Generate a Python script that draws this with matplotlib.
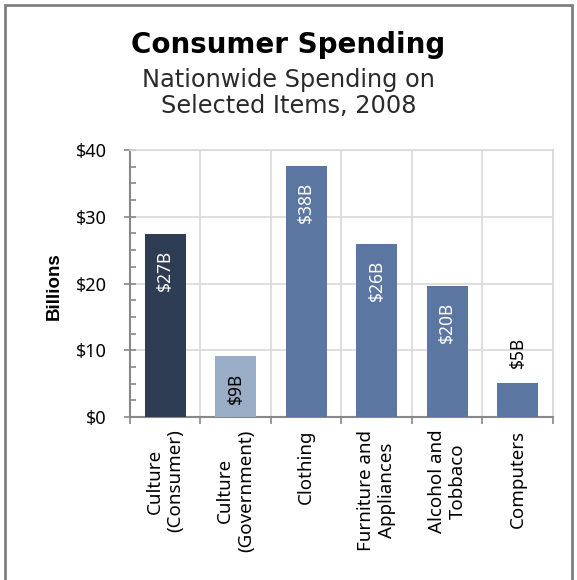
import matplotlib
matplotlib.use("Agg")
import matplotlib.pyplot as plt
from matplotlib.patches import Rectangle
from matplotlib.ticker import MultipleLocator
import numpy as np

categories = ["Culture\n(Consumer)", "Culture\n(Government)", "Clothing",
              "Furniture and\nAppliances", "Alcohol and\nTobbaco", "Computers"]
spending = [27.4, 9.1, 37.6, 25.9, 19.7, 5.1]
bar_colors = ["#2e3c54", "#9aadc7", "#5b76a0", "#5b76a0", "#5b76a0", "#5b76a0"]
label_colors = ["white", "black", "white", "white", "white", "black"]
label_inside = [True, True, True, True, True, False]
y_ticks = [0, 10, 20, 30, 40]

plt.rcParams['font.family'] = ['Noto Sans', 'DejaVu Sans']

fig = plt.figure(figsize=(5.77, 5.80), dpi=100)
ax = fig.add_axes([0.2253, 0.281, 0.7331, 0.4603])

x = np.arange(len(categories))
bars = ax.bar(x, spending, width=0.58, color=bar_colors, zorder=3)

for b, v, c, inside in zip(bars, spending, label_colors, label_inside):
    xc = b.get_x() + b.get_width() / 2
    if inside:
        ax.annotate(f"${v:.0f}B", (xc, v), xytext=(0, -11.5), textcoords="offset points",
                    rotation=90, ha="center", va="top", color=c, fontsize=12.5, zorder=4)
    else:
        ax.annotate(f"${v:.0f}B", (xc, v), xytext=(0, 11), textcoords="offset points",
                    rotation=90, ha="center", va="bottom", color=c, fontsize=12.5, zorder=4)

ax.set_xlim(-0.5, len(categories) - 0.5)
ax.set_ylim(0, 40)

# gridlines sit on the category boundaries and the major y ticks
ax.set_yticks(y_ticks)
ax.set_yticklabels([f"${t}" for t in y_ticks], fontsize=13)
ax.yaxis.set_minor_locator(MultipleLocator(2.5))
boundaries = np.arange(len(categories) + 1) - 0.5
ax.set_xticks(boundaries)
ax.set_xticklabels([])
ax.set_xticks(x, minor=True)
ax.set_xticklabels(categories, minor=True, rotation=90, fontsize=13.5,
                   ha="center", va="top", multialignment="center")

ax.grid(True, which="major", color="#d9d9d9", linewidth=1.2, zorder=0)
ax.tick_params(axis="y", which="major", direction="inout", length=8, width=1.2,
               color="#888888", pad=13)
ax.tick_params(axis="y", which="minor", direction="in", length=4, width=1.2,
               color="#888888")
ax.tick_params(axis="x", which="major", direction="out", length=5, width=1.2,
               color="#888888")
ax.tick_params(axis="x", which="minor", length=0, pad=9)

for side in ["top", "right"]:
    ax.spines[side].set_color("#d9d9d9")
    ax.spines[side].set_linewidth(1.2)
for side in ["left", "bottom"]:
    ax.spines[side].set_color("#888888")
    ax.spines[side].set_linewidth(1.5)

ax.set_ylabel("Billions", fontsize=13.5, fontweight="bold",
              family=["Liberation Sans", "DejaVu Sans"])
ax.yaxis.set_label_coords(-0.16, 0.49)

fig.text(0.5, 0.9086, "Consumer Spending", ha="center", va="baseline",
         fontsize=20, fontweight="bold", family=["DejaVu Sans"])
fig.text(0.5, 0.85, "Nationwide Spending on", ha="center", va="baseline",
         fontsize=17.3, color="#2a2a2a", family=["DejaVu Sans"])
fig.text(0.5, 0.805, "Selected Items, 2008", ha="center", va="baseline",
         fontsize=17.3, color="#2a2a2a", family=["DejaVu Sans"])

fig.patches.append(Rectangle((5 / 577, -0.05), 567 / 577, 1.05 - 5 / 580,
                             transform=fig.transFigure, fill=False,
                             edgecolor="#808080", linewidth=2))

fig.savefig("out.png", dpi=100)
